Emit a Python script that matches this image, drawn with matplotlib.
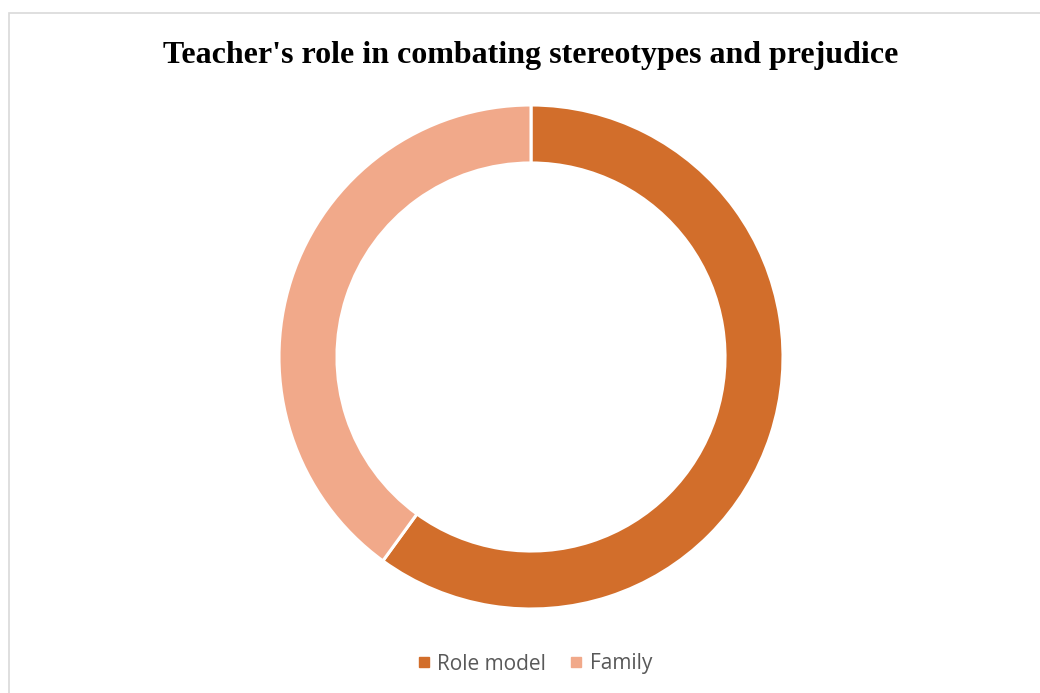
import matplotlib.pyplot as plt
from matplotlib.lines import Line2D
from matplotlib.patches import Rectangle

labels = ['Role model', 'Family']
values = [60, 40]
colors = ['#D26E2B', '#F1A98A']
title = "Teacher's role in combating stereotypes and prejudice"

W, H = 1040, 693
fig = plt.figure(figsize=(W / 100, H / 100), dpi=100)

# chart frame border (light gray, runs off right/bottom edges)
fig.patches.append(Rectangle((8.5 / W, -0.1), 1.2, 1 - 13.5 / H + 0.1,
                             transform=fig.transFigure, fill=False,
                             edgecolor='#D9D9D9', linewidth=1.2))

cx, cy, r = 531, 357, 252
ax = fig.add_axes([(cx - r) / W, (H - cy - r) / H, 2 * r / W, 2 * r / H])
ax.pie(values, colors=colors, startangle=90, counterclock=False, radius=1,
       wedgeprops=dict(width=0.23, edgecolor='white', linewidth=2.2))
ax.set_xlim(-1, 1)
ax.set_ylim(-1, 1)
ax.set_aspect('equal')
ax.axis('off')

fig.text(cx / W, 1 - 55 / H, title, ha='center', va='center',
         fontsize=23, fontweight='bold', family='Liberation Serif')

handles = [Line2D([], [], marker='s', linestyle='none', markersize=7,
                  markerfacecolor=c, markeredgecolor=c) for c in colors]
fig.legend(handles, labels, loc='center', bbox_to_anchor=(535 / W, 1 - 664 / H),
           ncol=2, frameon=False, handlelength=0.6, handletextpad=0.35,
           columnspacing=1.15, prop={'family': 'Open Sans', 'size': 15},
           labelcolor='#595959')

fig.savefig('out.png', dpi=100)
